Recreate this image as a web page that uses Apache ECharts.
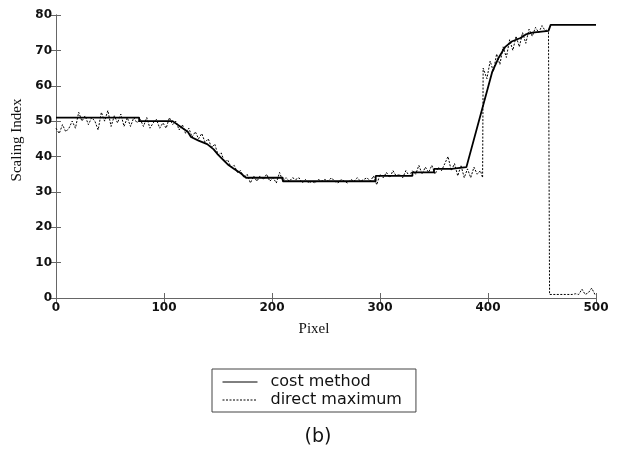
<!DOCTYPE html>
<html>
<head>
<meta charset="utf-8">
<script src="https://cdn.jsdelivr.net/npm/echarts@6/dist/echarts.min.js"></script>
<style>
  html, body { margin: 0; padding: 0; background: #fff; }
  #chart { width: 625px; height: 449px; }
</style>
</head>
<body>
<div id="chart"></div>
<script>
// cost method: piecewise staircase [pixel, scaling index]
const costMethod = [
  [0, 51], [77, 51], [77, 50], [108, 50], [115, 48.5], [122, 47], [125, 45.5],
  [132, 44.5], [140, 43.5], [146, 42], [150, 40.5], [155, 39], [160, 37.5],
  [165, 36.5], [170, 35.5], [176, 34], [210, 34], [210, 33], [296, 33],
  [296, 34.5], [330, 34.5], [330, 35.5], [350, 35.5], [350, 36.5], [366, 36.5],
  [366, 37], [380, 37], [404, 64], [410, 68], [416, 71],
  [422, 72.5], [430, 73.5], [435, 74.5], [441, 75], [456, 75.5], [458, 77.2],
  [500, 77.2]
];

// direct maximum: noisy estimate [pixel, scaling index]
const directMaximum = [
  [0, 48], [3, 46.5], [6, 49], [9, 47], [12, 48], [15, 50], [18, 48], [21, 52.5],
  [24, 50], [27, 51.5], [30, 49], [33, 51], [36, 50], [39, 47.5], [42, 52.5],
  [45, 50], [48, 53], [51, 48.5], [54, 51.5], [57, 49.5], [60, 52], [63, 48.5],
  [66, 51], [69, 48.5], [72, 51], [75, 49.5], [78, 50.5], [81, 48.5], [84, 51],
  [87, 48], [90, 49.5], [93, 50.5], [96, 48], [99, 49.5], [102, 48], [105, 51],
  [108, 49], [111, 50], [114, 47.5], [117, 49], [120, 46.5], [123, 48],
  [126, 45.5], [129, 47], [132, 45], [135, 46.5], [138, 44], [141, 45],
  [144, 42.5], [147, 43.5], [150, 40.5], [153, 41], [156, 38.5], [159, 39],
  [162, 37], [165, 37.5], [168, 35.5], [171, 36], [174, 34], [177, 35],
  [180, 32.5], [183, 34.5], [186, 33], [189, 34.5], [192, 33.5], [195, 35],
  [198, 33], [201, 34], [204, 32.5], [207, 35.5], [210, 33], [213, 34],
  [216, 33], [219, 34], [222, 33.5], [225, 34], [228, 32.5], [231, 33.5],
  [234, 32.5], [237, 33], [240, 32.5], [243, 33.5], [246, 33], [249, 33.5],
  [252, 33], [255, 34], [258, 33], [261, 32.5], [264, 33.5], [267, 33],
  [270, 32.5], [273, 33.5], [276, 33], [279, 34], [282, 33], [285, 33.5],
  [288, 34], [291, 33], [294, 34.5], [297, 32], [300, 35], [303, 34],
  [306, 35.5], [309, 34], [312, 36], [315, 34.5], [318, 35], [321, 34],
  [324, 36], [327, 34.5], [330, 36], [333, 35], [336, 37.5], [339, 35],
  [342, 37], [345, 35.5], [348, 37.5], [351, 35], [354, 37], [357, 36],
  [360, 38], [363, 40], [366, 36], [369, 38], [372, 34.5], [375, 37.5],
  [378, 34], [381, 36.5], [384, 34], [387, 37], [390, 35], [393, 36],
  [395, 34], [395.5, 65], [399, 62], [402, 67], [405, 64], [408, 69],
  [411, 66], [414, 71], [417, 68], [420, 73], [423, 70], [426, 74], [429, 71],
  [432, 75], [435, 72], [438, 76], [441, 74], [444, 76.5], [447, 75], [450, 77],
  [453, 75.5], [456, 76], [457, 1], [460, 1], [463, 1], [466, 1], [469, 1],
  [472, 1], [475, 1], [478, 1], [481, 1.2], [484, 1], [487, 2.5], [490, 1],
  [493, 1.5], [496, 2.8], [499, 1]
];

const xTicks = [0, 100, 200, 300, 400, 500];
const yTicks = [0, 10, 20, 30, 40, 50, 60, 70, 80];

const chart = echarts.init(document.getElementById('chart'));

const labelFont = { color: '#111', fontFamily: 'DejaVu Sans', fontWeight: 'bold', fontSize: 12 };
const boxLine = { lineStyle: { color: '#666', width: 1 } };
const innerTicks = { inside: true, length: 5, lineStyle: { color: '#666' } };
const serif = { fontFamily: 'Liberation Serif', fontSize: 15, fill: '#111' };

chart.setOption({
  animation: false,
  graphic: [
    { type: 'text', x: 17.5, y: 140, rotation: Math.PI / 2,
      style: { text: 'Scaling Index', ...serif, align: 'center', verticalAlign: 'middle' } },
    { type: 'text', x: 314, y: 329,
      style: { text: 'Pixel', ...serif, align: 'center', verticalAlign: 'middle' } },
    { type: 'text', x: 318, y: 437,
      style: { text: '(b)', fontFamily: 'DejaVu Sans', fontSize: 19, fill: '#111',
        align: 'center', verticalAlign: 'middle' } }
  ],
  legend: {
    orient: 'vertical',
    left: 212,
    top: 369,
    padding: [5, 14, 4, 10],
    itemGap: 2,
    itemWidth: 35,
    itemHeight: 16,
    borderColor: '#444',
    borderWidth: 1,
    itemStyle: { opacity: 0 },
    lineStyle: { width: 1 },
    textStyle: { fontFamily: 'DejaVu Sans', fontSize: 16, color: '#111', padding: [0, 0, 0, 8] },
    data: ['cost method', 'direct maximum']
  },
  grid: { left: 56, right: 29, top: 15, bottom: 151 },
  xAxis: [
    {
      type: 'value', min: 0, max: 500, interval: 100,
      axisLine: boxLine, axisTick: innerTicks,
      axisLabel: { ...labelFont, margin: 4 },
      splitLine: { show: false }
    },
    {
      type: 'value', position: 'top', min: 0, max: 500, interval: 100,
      axisLine: boxLine, axisTick: innerTicks,
      axisLabel: { show: false }, splitLine: { show: false }
    }
  ],
  yAxis: [
    {
      type: 'value', min: 0, max: 80, interval: 10,
      axisLine: { show: true, ...boxLine }, axisTick: innerTicks,
      axisLabel: { ...labelFont, margin: 4 },
      splitLine: { show: false }
    },
    {
      type: 'value', position: 'right', min: 0, max: 80, interval: 10,
      axisLine: { show: true, ...boxLine }, axisTick: innerTicks,
      axisLabel: { show: false }, splitLine: { show: false }
    }
  ],
  series: [
    {
      name: 'cost method',
      type: 'line',
      data: costMethod,
      symbol: 'none',
      lineStyle: { color: '#000', width: 1.8 },
      itemStyle: { color: '#000' }
    },
    {
      name: 'direct maximum',
      type: 'line',
      data: directMaximum,
      symbol: 'none',
      lineStyle: { color: '#000', width: 1, type: [2, 1.5] },
      itemStyle: { color: '#000' }
    }
  ]
});
</script>
</body>
</html>
